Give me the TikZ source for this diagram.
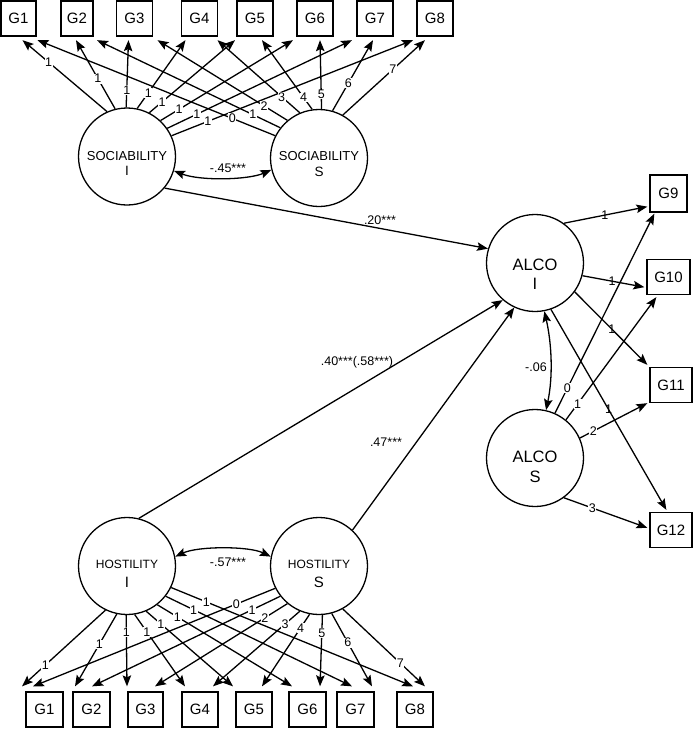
\documentclass[tikz,border=0pt]{standalone}
\usepackage{fontspec}
\setmainfont{Liberation Sans}
\usetikzlibrary{arrows.meta,calc}
\begin{document}
\begin{tikzpicture}[x=1pt,y=-1pt,
 box/.style={draw, line width=1.3pt, minimum width=36pt, minimum height=35pt, inner sep=0pt, font=\fontsize{15}{15}\selectfont},
 lat/.style={draw, circle, line width=1.3pt, minimum size=97pt, inner sep=0pt},
 arr/.style={line width=1.3pt, -{Stealth[length=11pt,width=8.5pt,inset=2pt]}},
 darr/.style={line width=1.3pt, {Stealth[length=11pt,width=8.5pt,inset=2pt]}-{Stealth[length=11pt,width=8.5pt,inset=2pt]}},
 lab/.style={fill=white, inner sep=0.6pt, font=\fontsize{12.5}{13}\selectfont},
 labnf/.style={inner sep=0.6pt, font=\fontsize{12.5}{13}\selectfont},
 coef/.style={inner sep=0pt, font=\fontsize{12.5}{13}\selectfont},
 ttl/.style={anchor=base, inner sep=0pt}]
\useasboundingbox (0,0) rectangle (693,729);

% top boxes
\node[box, minimum width=35pt] (t1) at (18.5,18.5) {G1};
\node[box, minimum width=32pt] (t2) at (77,18.5) {G2};
\node[box] (t3) at (134.5,18.5) {G3};
\node[box] (t4) at (199.5,18.5) {G4};
\node[box] (t5) at (255,18.5) {G5};
\node[box] (t6) at (315,18.5) {G6};
\node[box] (t7) at (375,18.5) {G7};
\node[box] (t8) at (435,18.5) {G8};

% bottom boxes
\node[box, minimum width=37pt] (b1) at (44.5,709.5) {G1};
\node[box, minimum width=37pt] (b2) at (91.5,709.5) {G2};
\node[box, minimum width=35pt] (b3) at (145.5,709.5) {G3};
\node[box] (b4) at (200,709.5) {G4};
\node[box] (b5) at (254,709.5) {G5};
\node[box, minimum width=37pt] (b6) at (307.5,709.5) {G6};
\node[box, minimum width=37pt] (b7) at (355.5,709.5) {G7};
\node[box] (b8) at (415,709.5) {G8};

% right boxes
\node[box, minimum width=37pt, minimum height=37pt] (g9) at (668.5,193.5) {G9};
\node[box, minimum width=43pt] (g10) at (668.5,277) {G10};
\node[box, minimum width=42pt] (g11) at (671,385) {G11};
\node[box, minimum width=42pt] (g12) at (671,530) {G12};

% latent variables
\node[lat] (socI) at (127,156.5) {};
\node[lat] (socS) at (319,158) {};
\node[lat] (hosI) at (127,566) {};
\node[lat] (hosS) at (319,566) {};
\node[lat] (alcoI) at (535,263) {};
\node[lat] (alcoS) at (535,458) {};

\node[ttl, font=\fontsize{13}{12}\selectfont] (socIa) at (127,160) {SOCIABILITY};
\node[ttl, font=\fontsize{13.5}{12}\selectfont] (socIb) at (127,175.5) {I};
\node[ttl, font=\fontsize{13}{12}\selectfont] (socSa) at (319,160) {SOCIABILITY};
\node[ttl, font=\fontsize{13.5}{12}\selectfont] (socSb) at (319,176) {S};
\node[ttl, font=\fontsize{12}{12}\selectfont] (hosIa) at (127,568) {HOSTILITY};
\node[ttl, font=\fontsize{15}{12}\selectfont] (hosIb) at (127,587) {I};
\node[ttl, font=\fontsize{12}{12}\selectfont] (hosSa) at (319,568) {HOSTILITY};
\node[ttl, font=\fontsize{15}{12}\selectfont] (hosSb) at (319,587) {S};
\node[ttl, font=\fontsize{16.5}{12}\selectfont] (alcoIa) at (535,270) {ALCO};
\node[ttl, font=\fontsize{16.5}{12}\selectfont] (alcoIb) at (535,289) {I};
\node[ttl, font=\fontsize{16.5}{12}\selectfont] (alcoSa) at (535,462) {ALCO};
\node[ttl, font=\fontsize{16.5}{12}\selectfont] (alcoSb) at (535,482) {S};

% sociability loadings
\foreach \i/\a/\dx in {1/114/4, 2/104/-1, 3/91/-6, 4/78/-14, 5/63/-20, 6/47/-22, 7/35/-23, 8/25/-22}
  \draw[arr] (socI.\a) -- ($(t\i.south)+(\dx,3.5)$);
\foreach \i/\a/\dx in {1/153/19, 2/142/20, 3/130/23, 4/113/18, 5/98/7, 6/87/5, 7/74/-2, 8/61/-10}
  \draw[arr] (socS.\a) -- ($(t\i.south)+(\dx,3.5)$);
\foreach \i/\a/\dx/\t in {1/114/4/0.69, 2/104/-1/0.44, 3/91/-6/0.26, 4/78/-14/0.23, 5/63/-20/0.15, 6/47/-22/0.14, 7/35/-23/0.16, 8/25/-22/0.15}
  \path (socI.\a) -- ($(t\i.south)+(\dx,3.5)$) node[lab, pos=\t] (lsi\i) {1};
\foreach \i/\a/\dx/\t/\v in {1/153/19/0.18/0, 2/142/20/0.15/1, 3/130/23/0.18/2, 4/113/18/0.22/3, 5/98/7/0.17/4, 6/87/5/0.21/5, 7/74/-2/0.39/6, 8/61/-10/0.61/7}
  \path (socS.\a) -- ($(t\i.south)+(\dx,3.5)$) node[lab, pos=\t] (lss\i) {\v};

% hostility loadings
\foreach \i/\a/\dx in {1/244/-22.5, 2/258/-16.5, 3/269/-18.5, 4/279/-15, 5/293/-21, 6/308/-15.5, 7/322/-3.5, 8/334/-2}
  \draw[arr] (hosI.\a) -- ($(b\i.north)+(\dx,-5)$);
\foreach \i/\a/\dx in {1/207/-11.5, 2/218/0.5, 3/230/9.5, 4/247/13, 5/259/8, 6/274/12.5, 7/285/16.5, 8/299/10}
  \draw[arr] (hosS.\a) -- ($(b\i.north)+(\dx,-5)$);
\foreach \i/\a/\dx/\t in {1/244/-22.5/0.72, 2/258/-16.5/0.42, 3/269/-18.5/0.24, 4/279/-15/0.24, 5/293/-21/0.17, 6/308/-15.5/0.15, 7/322/-3.5/0.15, 8/334/-2/0.145}
  \path (hosI.\a) -- ($(b\i.north)+(\dx,-5)$) node[lab, pos=\t] (lhi\i) {1};
\foreach \i/\a/\dx/\t/\v in {1/207/-11.5/0.16/0, 2/218/0.5/0.15/1, 3/230/9.5/0.17/2, 4/247/13/0.17/3, 5/259/8/0.19/4, 6/274/12.5/0.25/5, 7/285/16.5/0.4/6, 8/299/10/0.7/7}
  \path (hosS.\a) -- ($(b\i.north)+(\dx,-5)$) node[lab, pos=\t] (lhs\i) {\v};

% alcohol loadings
\draw[arr] (alcoI.54) -- ($(g9.south west)+(-2,-6)$) node[labnf, pos=0.49] (la9) {1};
\draw[arr] (alcoI.-15) -- ($(g10.south west)+(-2,-8)$) node[labnf, pos=0.48] (la10) {1};
\draw[arr] (alcoI.-36) -- ($(g11.north west)+(-2,-2)$) node[labnf, pos=0.51] (la11) {1};
\draw[arr] (alcoI.-71) -- ($(g12.north west)+(17,-2)$) node[labnf, pos=0.5] (la12) {1};
\draw[arr] (alcoS.66) -- ($(g9.south west)+(5,1)$) node[lab, pos=0.125] (ls9) {0};
\draw[arr] (alcoS.51) -- ($(g10.south west)+(10,2)$) node[lab, pos=0.13] (ls10) {1};
\draw[arr] (alcoS.24) -- ($(g11.south west)+(-2,0)$) node[lab, pos=0.2] (ls11) {2};
\draw[arr] (alcoS.-54) -- ($(g12.north west)+(-2,16)$) node[lab, pos=0.34] (ls12) {3};

% structural paths
\draw[arr] (socI.-40) -- (alcoI.163);
\draw[arr] (hosI.76) -- (alcoI.229);
\draw[arr] (hosS.47) -- (alcoI.245);
\node[coef] (c20) at (380,220) {.20***};
\node[coef] (c40) at (357,362) {.40***(.58***)};
\node[coef] (c47) at (386,442) {.47***};

% covariances
\draw[darr] (socI.-17) .. controls (200,181) and (248,180) .. (socS.194);
\node[coef] (c45) at (228,168) {-.45***};
\draw[darr] (hosI.11) .. controls (198,546) and (249,546) .. (hosS.169);
\node[coef] (c57) at (228,562) {-.57***};
\draw[darr] (alcoI.-79) .. controls (552,345) and (553,377) .. (alcoS.77);
\node[coef] (c06) at (536,367) {-.06};
\end{tikzpicture}
\end{document}
